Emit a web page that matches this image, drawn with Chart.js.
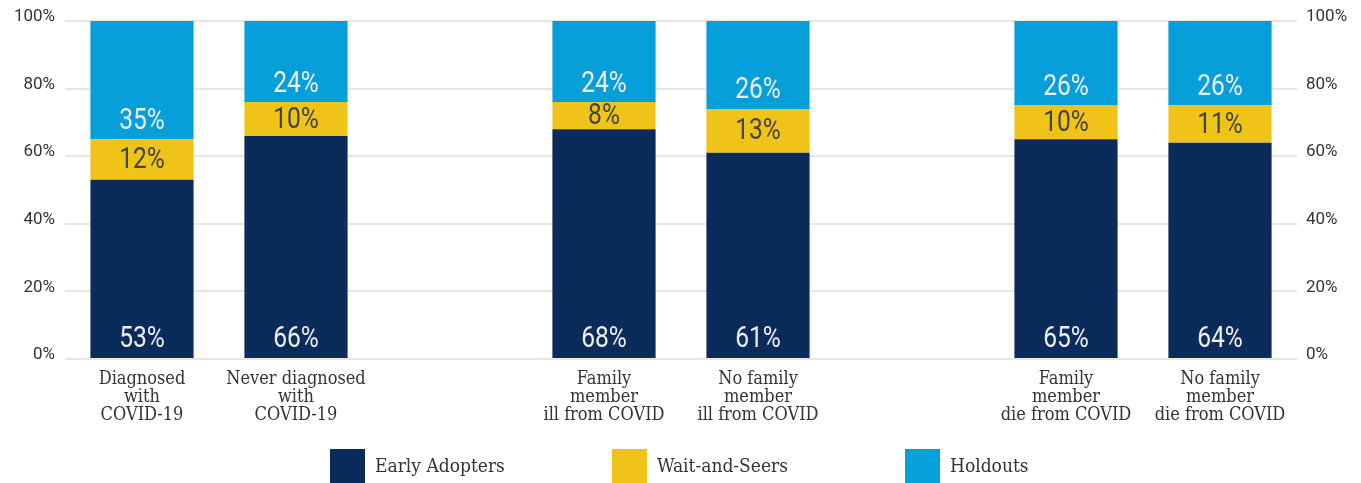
<!DOCTYPE html>
<html>
<head>
<meta charset="utf-8">
<script src="https://cdn.jsdelivr.net/npm/chart.js@4.4.1/dist/chart.umd.min.js"></script>
<style>
  html, body { margin: 0; padding: 0; background: #fff; }
  #wrap { width: 1361px; height: 483px; }
</style>
</head>
<body>
<div id="wrap"><canvas id="c" width="1361" height="483"></canvas></div>
<script>
// categories (empty strings are the gaps between groups)
const categories = [
  ['Diagnosed', 'with', 'COVID-19'],
  ['Never diagnosed', 'with', 'COVID-19'],
  '',
  ['Family', 'member', 'ill from COVID'],
  ['No family', 'member', 'ill from COVID'],
  '',
  ['Family', 'member', 'die from COVID'],
  ['No family', 'member', 'die from COVID']
];
const earlyAdopters = [53, 66, null, 68, 61, null, 65, 64];
const waitAndSeers  = [12, 10, null, 8, 13, null, 10, 11];
const holdouts      = [35, 24, null, 24, 26, null, 26, 26];
const yTicks = [0, 20, 40, 60, 80, 100];

const NAVY = '#0b2c5b', GOLD = '#f0c319', SKY = '#079fda';
const GRID = '#ebe6dc';
const SLAB = 'DejaVu Serif Condensed, DejaVu Serif';

// white / dark percentage labels inside the stacks
const barLabels = {
  id: 'barLabels',
  afterDatasetsDraw(chart) {
    const ctx = chart.ctx;
    const m0 = chart.getDatasetMeta(0), m1 = chart.getDatasetMeta(1);
    ctx.save();
    ctx.font = '400 30px Roboto';
    ctx.textAlign = 'center';
    ctx.textBaseline = 'middle';
    const put = (txt, x, y, col) => {
      ctx.save();
      ctx.translate(x, y);
      ctx.scale(0.82, 1);
      ctx.fillStyle = col;
      ctx.fillText(txt, 0, 0);
      ctx.restore();
    };
    earlyAdopters.forEach((v, i) => {
      if (v == null) return;
      const b0 = m0.data[i], b1 = m1.data[i];
      put(v + '%', b0.x, b0.base - 19, '#eeeeee');
      put(waitAndSeers[i] + '%', b1.x, (b1.y + b1.base) / 2 + 1, '#444444');
      put(holdouts[i] + '%', b1.x, b1.y - 18, '#eeeeee');
    });
    ctx.restore();
  }
};

// legend row along the bottom edge
const bottomLegend = {
  id: 'bottomLegend',
  afterDraw(chart) {
    const ctx = chart.ctx;
    const xs = [330, 612, 905];
    ctx.save();
    ctx.font = '19px ' + SLAB;
    ctx.textBaseline = 'middle';
    chart.data.datasets.forEach((ds, i) => {
      ctx.fillStyle = ds.backgroundColor;
      ctx.fillRect(xs[i], 449, 35, 35);
      ctx.fillStyle = '#333';
      ctx.fillText(ds.label, xs[i] + 45, 467);
    });
    ctx.restore();
  }
};

new Chart(document.getElementById('c'), {
  type: 'bar',
  data: {
    labels: categories,
    datasets: [
      { label: 'Early Adopters', data: earlyAdopters, backgroundColor: NAVY },
      { label: 'Wait-and-Seers', data: waitAndSeers, backgroundColor: GOLD },
      { label: 'Holdouts', data: holdouts, backgroundColor: SKY }
    ]
  },
  options: {
    responsive: false,
    animation: false,
    layout: { padding: { top: 21, left: 0, right: 0, bottom: 0 } },
    datasets: { bar: { categoryPercentage: 1, barPercentage: 0.67 } },
    scales: {
      x: {
        stacked: true,
        grid: { display: false },
        border: { display: false },
        ticks: {
          color: '#333', padding: 3, maxRotation: 0, autoSkip: false,
          font: { family: SLAB, size: 18, lineHeight: 1.0 }
        },
        afterFit(s) { s.height = 124; }
      },
      y: {
        stacked: true, min: 0, max: 100, position: 'left',
        afterBuildTicks(s) { s.ticks = yTicks.map(v => ({ value: v })); },
        grid: { color: GRID, lineWidth: 2, drawTicks: false },
        border: { display: false },
        ticks: {
          color: '#333', padding: 10, labelOffset: -4,
          font: { family: 'Roboto', size: 17 },
          callback: v => v + '%'
        },
        afterFit(s) { s.width = 65; }
      },
      y2: {
        min: 0, max: 100, position: 'right',
        afterBuildTicks(s) { s.ticks = yTicks.map(v => ({ value: v })); },
        grid: { drawOnChartArea: false, drawTicks: false },
        border: { display: false },
        ticks: {
          color: '#333', padding: 9, labelOffset: -4,
          font: { family: 'Roboto', size: 17 },
          callback: v => v + '%'
        },
        afterFit(s) { s.width = 64; }
      }
    },
    plugins: {
      legend: { display: false },
      tooltip: { enabled: false }
    }
  },
  plugins: [barLabels, bottomLegend]
});
</script>
</body>
</html>
